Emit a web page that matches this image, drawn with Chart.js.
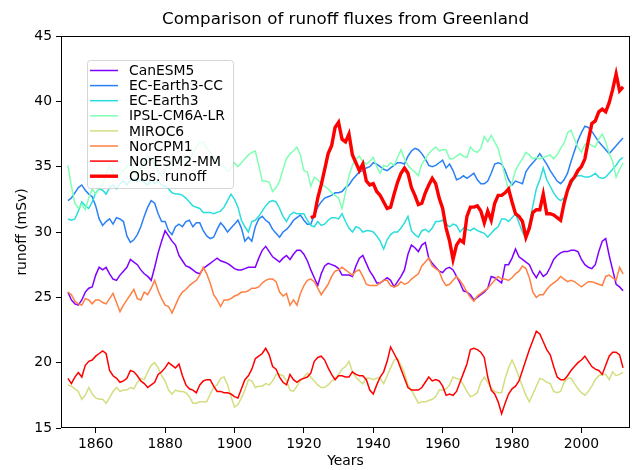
<!DOCTYPE html>
<html lang="en">
<head>
  <meta charset="UTF-8">
  <title>Comparison of runoff fluxes from Greenland</title>
  <script src="https://cdn.jsdelivr.net/npm/chart.js"></script>
  <style>
    body { margin: 0; background: #fff; }
    #wrap { width: 636px; height: 470px; }
  </style>
</head>
<body>
  <div id="wrap"><canvas id="runoffChart" width="636" height="470"></canvas></div>

  <script>
    // models cover 1852-2012, observations 1922-2012 (one value per year)
    const modelStart = 1852;
    const obsStart = 1922;
    const tickYears = [1860, 1880, 1900, 1920, 1940, 1960, 1980, 2000];

    const seriesNames = ['CanESM5', 'EC-Earth3-CC', 'EC-Earth3', 'IPSL-CM6A-LR', 'MIROC6', 'NorCPM1', 'NorESM2-MM', 'Obs. runoff'];
    const seriesColors = ['#8000ff', '#2a80f6', '#2adddd', '#80ffb4', '#d4dd80', '#ff8042', '#ff0000', '#ff0000'];

    const canESM5 = [
      25.4, 24.8, 24.5, 24.4, 24.8, 25.4, 25.7, 25.8, 26.7, 27.3,
      27.1, 27.3, 26.8, 26.4, 26.3, 26.7, 27.0, 27.3, 27.9, 27.7,
      27.5, 27.1, 26.8, 26.6, 26.3, 27.3, 28.4, 29.3, 30.1, 29.7,
      29.3, 29.0, 28.2, 27.8, 27.4, 27.3, 27.1, 26.9, 26.8, 27.2,
      27.4, 27.6, 27.8, 28.0, 27.8, 27.7, 27.6, 27.4, 27.2, 27.1,
      27.1, 27.2, 27.3, 27.3, 27.3, 28.0, 28.6, 28.9, 28.5, 28.1,
      27.9, 27.7, 28.0, 28.2, 27.9, 28.3, 28.6, 28.6, 28.3, 27.8,
      27.1, 26.5, 25.9, 26.8, 27.4, 27.6, 27.5, 27.4, 27.2, 26.7,
      26.7, 26.7, 26.6, 27.4, 28.0, 28.2, 27.6, 27.0, 26.6, 26.1,
      26.1, 26.3, 26.5, 26.3, 25.8, 26.2, 26.6, 27.1, 28.3, 29.0,
      28.8, 28.5, 29.0, 29.2, 28.0, 27.6, 27.3, 27.0, 26.9, 27.2,
      27.3, 27.1, 26.6, 26.1, 25.5, 25.4, 25.2, 24.8, 25.0, 25.2,
      25.4, 25.7, 26.6, 26.5, 26.3, 26.1, 27.5, 27.5, 28.0, 28.7,
      28.1, 27.9, 27.7, 27.5, 26.9, 26.5, 27.0, 26.6, 26.8, 27.3,
      27.9, 28.2, 28.4, 28.5, 28.5, 28.6, 28.6, 28.5, 27.9, 27.5,
      27.3, 27.2, 27.5, 28.5, 29.3, 29.5, 28.2, 27.1, 26.0, 25.8,
      25.5
    ];

    const ecEarth3CC = [
      32.4, 32.6, 33.0, 33.4, 33.6, 33.2, 32.9, 32.7, 32.0, 31.0,
      30.5, 30.8, 31.0, 30.6, 31.1, 31.0, 30.8, 29.7, 29.2, 29.4,
      29.8, 30.4, 31.2, 31.9, 32.4, 32.2, 31.4, 30.8, 30.8, 30.1,
      29.8, 30.4, 30.6, 30.4, 30.8, 30.9, 30.4, 30.7, 30.7, 30.1,
      29.7, 29.5, 29.6, 30.2, 30.7, 30.4, 30.0, 30.3, 30.6, 30.9,
      30.3, 29.3, 29.6, 29.3, 30.4, 31.0, 31.2, 30.9, 30.7, 30.2,
      29.9, 29.6, 30.0, 30.2, 30.5, 30.9, 31.1, 31.3, 30.9, 30.6,
      30.6, 31.3, 31.9, 32.3, 32.6, 32.7, 32.8, 33.0, 33.0, 33.1,
      33.4, 33.6, 34.0, 34.3, 34.6, 34.7, 34.9, 35.0, 35.3, 35.2,
      35.0, 34.8, 34.7, 34.9, 35.1, 35.3, 35.3, 35.2, 35.8, 36.2,
      36.4, 36.3, 36.0, 35.6, 35.1, 35.0, 35.1, 35.3, 35.5, 34.9,
      35.2, 34.7, 34.0, 34.1, 34.3, 34.1, 34.3, 34.5, 34.0, 33.7,
      33.7, 33.9, 34.5, 35.2, 35.3, 35.2, 34.7, 34.0, 33.6, 33.9,
      33.8, 33.7, 34.6, 35.0, 35.3, 35.6, 36.0, 35.6, 35.2, 34.7,
      34.3, 33.9, 33.7, 34.0, 34.5, 35.4, 36.2, 37.0, 37.6, 38.1,
      38.0, 37.7, 37.3, 36.9, 36.6, 36.3, 36.0, 36.3, 36.6, 36.9,
      37.2
    ];

    const ecEarth3 = [
      31.0, 30.9, 31.0, 31.6, 32.3, 32.0, 31.8, 32.3, 33.0, 33.3,
      33.2, 32.9, 33.4, 33.6, 33.3, 33.7, 33.9, 33.6, 34.0, 34.1,
      33.8, 34.0, 33.8, 33.6, 34.0, 33.7, 33.9, 33.6, 33.5, 33.3,
      33.0, 32.9, 32.9, 32.8, 32.6, 32.3, 32.0, 31.9, 31.8, 31.5,
      31.5, 31.5, 31.4, 31.5, 31.6, 31.9, 32.4, 32.9, 32.5, 31.9,
      30.9, 30.4, 30.0, 30.8, 30.9, 31.2, 31.6, 32.0, 32.3, 32.4,
      32.3, 31.8, 31.2, 30.8, 31.3, 31.5, 31.4, 31.4, 31.4, 30.9,
      30.5, 30.4, 30.8, 30.5, 30.6, 30.9, 31.1, 31.1, 31.0, 31.4,
      30.8, 30.3, 30.0, 30.4, 30.3, 30.0, 30.1, 30.1, 30.0, 29.7,
      29.3, 28.7, 29.4, 29.8, 30.0, 30.0, 30.3, 30.7, 31.2, 30.1,
      29.8, 29.6, 30.1, 30.2, 30.0, 30.3, 30.8, 30.8, 30.9, 30.6,
      30.4, 30.6, 30.5, 30.0, 30.3, 30.2, 30.1, 30.3, 30.1, 30.0,
      29.9, 29.6, 29.9, 30.2, 30.4, 31.0, 31.0, 30.8, 31.1, 31.4,
      30.7, 30.0, 29.5, 30.7, 32.0, 33.3, 34.0, 34.9, 34.0, 33.5,
      33.0, 32.6, 32.4, 32.6, 33.1, 33.6, 34.2, 34.3, 34.3, 34.2,
      34.2, 34.3, 34.5, 34.2, 34.1, 34.2, 34.5, 34.8, 35.1, 35.5,
      35.7
    ];

    const ipslCM6ALR = [
      35.1, 33.5, 32.2, 31.8, 32.1, 31.7, 32.6, 33.3, 32.9, 33.4,
      33.6, 34.4, 35.1, 34.5, 34.1, 34.4, 34.7, 35.0, 35.2, 34.6,
      34.3, 34.8, 35.3, 35.8, 35.6, 35.1, 34.6, 34.3, 34.7, 35.1,
      35.4, 35.1, 35.3, 35.7, 35.3, 35.5, 36.0, 36.5, 36.8, 36.9,
      36.4, 36.1, 35.8, 35.4, 35.2, 35.0, 34.6, 34.9, 35.3, 35.0,
      35.3, 35.6, 35.9, 36.1, 36.2, 35.1, 33.9, 33.9, 33.8, 33.1,
      33.4, 33.9, 34.8, 35.6, 36.0, 36.2, 36.5, 35.9, 34.7, 34.6,
      33.5, 34.2, 34.0, 33.7, 33.5, 33.3, 33.0, 32.8, 32.6, 31.8,
      33.0, 34.3, 35.1, 35.6, 35.8, 35.4, 35.2, 35.4, 35.7, 35.0,
      34.5, 35.1, 35.0, 35.3, 35.1, 35.7, 36.3, 35.6, 35.1, 34.8,
      34.6, 34.3, 35.2, 35.6, 36.0, 36.3, 36.5, 36.2, 36.3, 36.3,
      35.6, 35.6, 35.8, 36.0, 35.8, 35.7, 36.5, 36.2, 36.1, 36.4,
      37.3, 36.9, 37.4, 36.9, 36.4, 35.4, 34.2, 33.2, 33.8, 34.7,
      35.2, 35.6, 36.1, 35.9, 35.6, 35.7, 35.6, 35.7, 35.8, 35.9,
      35.6, 35.9, 36.4, 36.8, 37.6, 37.8, 37.1, 36.5, 36.1, 36.7,
      36.8, 36.6, 36.5, 37.1, 37.5, 36.9, 36.0, 35.4, 34.2, 34.8,
      35.3
    ];

    const miroc6 = [
      18.3, 18.2, 18.0, 17.8, 17.2, 17.5, 18.1, 17.6, 17.3, 17.2,
      17.2, 16.9, 17.3, 17.8, 18.1, 17.8, 17.9, 17.9, 18.1, 18.0,
      18.5, 18.8, 18.7, 19.3, 19.8, 20.0, 19.6, 19.0, 18.6, 17.9,
      17.6, 17.9, 17.8, 17.8, 17.7, 17.4, 16.9, 16.9, 17.0, 17.0,
      17.0, 17.6, 18.1, 18.3, 18.8, 18.9, 18.3, 17.4, 16.6, 16.8,
      17.3, 17.9, 18.7, 18.6, 18.1, 18.2, 18.2, 18.4, 18.3, 18.6,
      19.1, 19.1, 19.0, 18.6, 17.9, 17.8, 18.2, 18.6, 18.9, 19.2,
      18.9, 18.6, 18.3, 18.1, 18.1, 18.3, 18.6, 18.8, 19.1, 19.5,
      19.7, 20.1, 19.3, 18.9, 18.6, 18.4, 18.8, 18.8, 18.7, 18.8,
      18.8, 18.4, 19.0, 19.6, 20.2, 20.3, 19.8, 19.2, 18.3, 17.9,
      17.4, 16.9, 17.0, 17.0, 17.1, 17.2, 17.4, 17.9, 17.9, 18.0,
      18.3, 18.9, 18.8, 18.7, 18.3, 17.8, 17.4, 17.5, 17.7, 18.5,
      18.9, 18.5, 18.1, 17.8, 17.7, 17.7, 18.8, 19.6, 20.2, 19.6,
      18.9, 18.2, 17.5, 17.0, 17.6, 18.2, 18.8, 18.7, 18.5, 18.4,
      17.8, 17.7, 17.8, 18.5, 18.8, 18.8, 18.4, 18.0, 17.7, 17.5,
      17.8, 18.2, 18.7, 19.0, 19.1, 19.1, 18.7, 19.3, 19.0, 19.1,
      19.25
    ];

    const norCPM1 = [
      25.4, 25.2, 24.7, 24.5, 24.4, 24.9, 24.8, 24.5, 24.8, 24.8,
      24.6, 24.5, 24.9, 25.3, 24.6, 23.9, 24.4, 24.8, 25.2, 25.6,
      24.9, 24.8, 25.4, 25.2, 25.7, 26.3, 25.5, 24.9, 24.4, 24.3,
      23.8, 24.4, 25.0, 25.4, 25.6, 25.9, 26.1, 26.3, 26.7, 27.3,
      26.8, 26.1, 25.2, 24.8, 24.3, 24.8, 24.8, 24.9, 25.1, 25.2,
      25.4, 25.4, 25.5, 25.7, 25.7, 25.8, 26.1, 26.3, 26.4, 26.4,
      26.2, 25.4, 25.1, 25.3, 24.4, 24.8, 24.4, 25.3, 25.9, 26.3,
      26.4, 26.2, 25.7, 25.2, 25.6, 26.0, 26.6, 27.0, 27.1, 27.3,
      27.1, 26.9, 26.7, 27.0, 27.1, 26.6, 26.0, 25.9, 25.9, 25.9,
      26.1, 26.3, 26.3, 25.9, 25.8, 25.9, 26.2, 26.0, 26.1, 26.4,
      26.6, 26.8, 27.4, 27.7, 28.0, 27.4, 27.2, 27.0, 26.3, 25.9,
      26.0, 26.3, 26.6, 26.3, 25.9, 25.4, 25.0, 24.7, 25.1, 25.3,
      25.5, 25.7, 26.0, 26.3, 26.6, 26.4, 26.4, 26.3, 26.5, 26.8,
      27.0, 27.4, 27.2, 26.5, 25.4, 25.0, 25.2, 25.2, 25.6, 25.9,
      26.1, 26.3, 26.6, 26.4, 26.2, 26.3, 26.2, 26.0, 25.8, 26.0,
      26.2, 26.2, 26.1, 26.0, 25.9, 26.6, 26.7, 26.5, 26.3, 27.3,
      26.8
    ];

    const norESM2MM = [
      18.8, 18.4, 18.9, 19.25, 18.9, 19.8, 20.1, 20.2, 20.5, 20.7,
      20.9, 20.7, 19.4, 19.0, 18.8, 18.5, 18.6, 18.8, 19.4, 19.3,
      19.0, 18.6, 18.4, 18.1, 18.3, 18.5, 19.1, 19.3, 19.6, 20.0,
      19.8, 19.6, 19.9, 19.0, 18.3, 18.0, 17.9, 17.7, 18.3, 18.6,
      18.7, 18.7, 18.2, 17.8, 17.8, 17.7, 17.7, 17.6, 17.4, 17.3,
      18.0, 18.7, 19.0, 19.5, 20.3, 20.5, 20.7, 21.1, 20.6, 19.7,
      19.5, 18.9, 18.5, 18.3, 19.1, 18.7, 18.5, 18.7, 18.8, 18.9,
      19.2, 20.1, 20.4, 20.5, 20.2, 19.6, 19.1, 18.7, 19.0, 19.0,
      18.9, 18.9, 19.3, 19.1, 19.0, 19.0, 18.7, 17.9, 17.6, 18.3,
      18.9, 19.3, 20.1, 21.2, 20.7, 20.2, 19.5, 18.8, 18.1, 17.9,
      17.9, 17.9, 18.1, 18.5, 18.9, 18.6, 18.7, 18.6, 18.2, 17.5,
      17.6, 17.5, 17.8, 18.5, 19.2, 19.9, 21.0, 21.1, 21.0, 20.8,
      20.4, 18.9, 17.9, 17.6, 17.0, 16.1, 16.9, 17.6, 18.0, 18.2,
      18.6, 19.4, 20.2, 21.0, 21.7, 22.4, 22.2, 21.6, 21.0, 20.6,
      19.7, 18.9, 18.7, 18.7, 19.0, 19.4, 19.7, 20.0, 20.2, 20.5,
      20.1, 19.7, 19.5, 19.4, 19.1, 19.8, 20.5, 20.8, 20.8, 20.6,
      19.6
    ];

    const obsRunoff = [
      31.1, 31.2, 32.6, 33.6, 34.8, 36.0, 36.6, 38.0, 38.4, 37.1,
      36.9, 37.5, 35.9, 35.3, 34.7, 35.2, 33.9, 33.6, 33.7, 33.1,
      32.8, 32.3, 31.8, 31.9, 32.9, 33.8, 34.5, 34.9, 34.5, 33.4,
      32.8, 32.1, 32.2, 33.0, 33.6, 34.1, 33.7, 32.6, 31.8, 30.3,
      29.3, 27.9, 29.0, 29.4, 29.2, 31.2, 31.9, 31.9, 32.0, 31.6,
      30.7, 31.6, 30.9, 32.2, 32.8, 32.8, 33.0, 33.3, 32.3, 31.4,
      31.2, 30.8, 29.6, 30.3, 31.5, 31.7, 31.7, 32.9, 31.4, 31.4,
      31.3, 31.1, 30.9, 32.2, 33.2, 33.9, 34.2, 34.7, 35.0, 35.6,
      37.0, 38.3, 38.5, 39.2, 39.4, 39.2, 39.9, 40.9, 42.1, 40.8,
      41.1
    ];

    const seriesValues = [canESM5, ecEarth3CC, ecEarth3, ipslCM6ALR, miroc6, norCPM1, norESM2MM, obsRunoff];
    const seriesStart = [modelStart, modelStart, modelStart, modelStart, modelStart, modelStart, modelStart, obsStart];

    const fontFamily = '"DejaVu Sans", sans-serif';
    Chart.defaults.font.family = fontFamily;
    Chart.defaults.font.size = 13.9;
    Chart.defaults.color = '#000';

    // top/right spines plus the left/bottom ones, like a matplotlib box
    const frameBox = {
      id: 'frameBox',
      afterDatasetsDraw(chart) {
        const a = chart.chartArea;
        const ctx = chart.ctx;
        ctx.save();
        ctx.strokeStyle = '#000';
        ctx.lineWidth = 1;
        ctx.strokeRect(a.left + 0.5, a.top + 0.5, a.right - a.left - 1, a.bottom - a.top - 1);
        ctx.restore();
      }
    };

    // title centred over the plot area
    const plotTitle = {
      id: 'plotTitle',
      afterDraw(chart) {
        const a = chart.chartArea;
        const ctx = chart.ctx;
        ctx.save();
        ctx.font = '16.7px ' + fontFamily;
        ctx.fillStyle = '#000';
        ctx.textAlign = 'center';
        ctx.textBaseline = 'middle';
        ctx.fillText('Comparison of runoff fluxes from Greenland', (a.left + a.right) / 2, 20);
        ctx.restore();
      }
    };

    // legend box in the upper left corner of the axes
    const boxLegend = {
      id: 'boxLegend',
      afterDraw(chart) {
        const ctx = chart.ctx;
        ctx.save();
        ctx.beginPath();
        ctx.roundRect(87.5, 60.5, 146, 128, 3);
        ctx.fillStyle = 'rgba(255,255,255,0.8)';
        ctx.fill();
        ctx.strokeStyle = 'rgba(204,204,204,0.8)';
        ctx.lineWidth = 1;
        ctx.stroke();
        ctx.font = '13.9px ' + fontFamily;
        ctx.textBaseline = 'middle';
        chart.data.datasets.forEach((ds, i) => {
          const y = 70.5 + i * 15.1;
          ctx.strokeStyle = ds.borderColor;
          ctx.lineWidth = ds.borderWidth;
          ctx.beginPath();
          ctx.moveTo(90, y);
          ctx.lineTo(118, y);
          ctx.stroke();
          ctx.fillStyle = '#000';
          ctx.fillText(ds.label, 129, y + 1);
        });
        ctx.restore();
      }
    };

    const datasets = seriesNames.map((name, i) => ({
      label: name,
      data: seriesValues[i].map((v, k) => ({ x: seriesStart[i] + k, y: v })),
      borderColor: seriesColors[i],
      backgroundColor: seriesColors[i],
      borderWidth: i === seriesNames.length - 1 ? 3.4 : 1.5,
      pointRadius: 0,
      tension: 0,
      fill: false,
      order: seriesNames.length - i
    }));

    const ctx = document.getElementById('runoffChart').getContext('2d');
    new Chart(ctx, {
      type: 'line',
      data: { datasets },
      options: {
        responsive: false,
        animation: false,
        devicePixelRatio: 1,
        layout: { padding: { top: 36, right: 6, left: 0, bottom: 0 } },
        plugins: {
          legend: { display: false },
          tooltip: { enabled: false }
        },
        scales: {
          x: {
            type: 'linear',
            min: 1850,
            max: 2014,
            afterBuildTicks: scale => { scale.ticks = tickYears.map(v => ({ value: v })); },
            afterFit: scale => { scale.height = 42; },
            ticks: { callback: v => String(v), padding: 3, maxRotation: 0 },
            grid: { drawOnChartArea: false, drawTicks: true, tickLength: 5, tickColor: '#000', tickWidth: 1 },
            border: { display: false },
            title: { display: true, text: 'Years', padding: { top: 0, bottom: 0 }, font: { size: 13.9 } }
          },
          y: {
            min: 15,
            max: 45,
            ticks: { stepSize: 5, padding: 4 },
            afterFit: scale => { scale.width = 61; },
            grid: { drawOnChartArea: false, drawTicks: true, tickLength: 5, tickColor: '#000', tickWidth: 1 },
            border: { display: false },
            title: { display: true, text: 'runoff (mSv)', padding: { top: 14, bottom: 0 }, font: { size: 13.9 } }
          }
        }
      },
      plugins: [frameBox, plotTitle, boxLegend]
    });
  </script>
</body>
</html>
